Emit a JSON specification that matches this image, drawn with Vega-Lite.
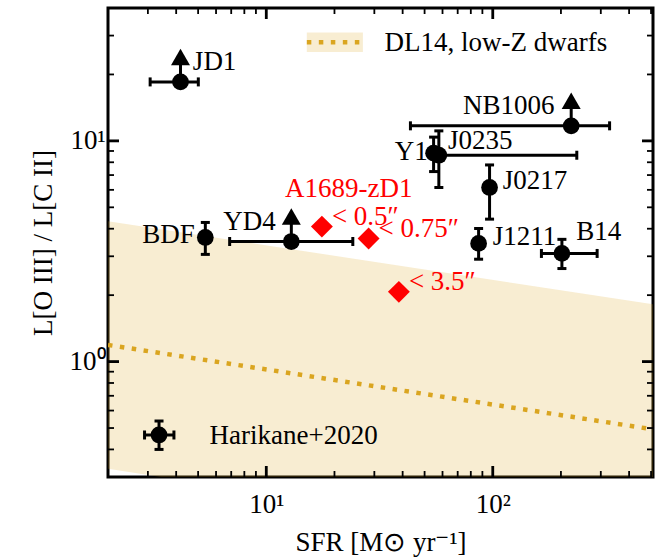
{
  "$schema": "https://vega.github.io/schema/vega-lite/v6.json",
  "width": 545,
  "height": 469,
  "autosize": {"type": "none"},
  "padding": {"left": 108, "top": 8, "right": 10, "bottom": 81},
  "config": {
    "view": {"stroke": "black", "strokeWidth": 3},
    "font": "Liberation Serif",
    "axis": {
      "domain": false,
      "grid": false,
      "zindex": 1,
      "labelFont": "Liberation Serif",
      "labelFontSize": 27,
      "labelColor": "black",
      "labelOverlap": false,
      "labelFlush": false,
      "titleFont": "Liberation Serif",
      "titleFontSize": 27,
      "titleFontWeight": "normal",
      "titleColor": "black"
    },
    "text": {"font": "Liberation Serif", "fontSize": 27, "baseline": "middle"}
  },
  "datasets": {
    "dl14": [
      {"sfr": 2, "ratio": 1.19, "ratio_lo": 0.327, "ratio_hi": 4.32},
      {"sfr": 510, "ratio": 0.493, "ratio_lo": 0.135, "ratio_hi": 1.82}
    ],
    "dl14_key": [
      {"sfr": 15.1, "ratio": 28.0, "ratio_lo": 25.3, "ratio_hi": 31.0},
      {"sfr": 26.7, "ratio": 28.0, "ratio_lo": 25.3, "ratio_hi": 31.0}
    ],
    "xticks": [
      {"sfr": 3, "major": false, "ratio_min": 0.3, "ratio_max": 40},
      {"sfr": 4, "major": false, "ratio_min": 0.3, "ratio_max": 40},
      {"sfr": 5, "major": false, "ratio_min": 0.3, "ratio_max": 40},
      {"sfr": 6, "major": false, "ratio_min": 0.3, "ratio_max": 40},
      {"sfr": 7, "major": false, "ratio_min": 0.3, "ratio_max": 40},
      {"sfr": 8, "major": false, "ratio_min": 0.3, "ratio_max": 40},
      {"sfr": 9, "major": false, "ratio_min": 0.3, "ratio_max": 40},
      {"sfr": 10, "major": true, "ratio_min": 0.3, "ratio_max": 40},
      {"sfr": 20, "major": false, "ratio_min": 0.3, "ratio_max": 40},
      {"sfr": 30, "major": false, "ratio_min": 0.3, "ratio_max": 40},
      {"sfr": 40, "major": false, "ratio_min": 0.3, "ratio_max": 40},
      {"sfr": 50, "major": false, "ratio_min": 0.3, "ratio_max": 40},
      {"sfr": 60, "major": false, "ratio_min": 0.3, "ratio_max": 40},
      {"sfr": 70, "major": false, "ratio_min": 0.3, "ratio_max": 40},
      {"sfr": 80, "major": false, "ratio_min": 0.3, "ratio_max": 40},
      {"sfr": 90, "major": false, "ratio_min": 0.3, "ratio_max": 40},
      {"sfr": 100, "major": true, "ratio_min": 0.3, "ratio_max": 40},
      {"sfr": 200, "major": false, "ratio_min": 0.3, "ratio_max": 40},
      {"sfr": 300, "major": false, "ratio_min": 0.3, "ratio_max": 40},
      {"sfr": 400, "major": false, "ratio_min": 0.3, "ratio_max": 40},
      {"sfr": 500, "major": false, "ratio_min": 0.3, "ratio_max": 40}
    ],
    "yticks": [
      {"ratio": 0.4, "major": false, "sfr_min": 2, "sfr_max": 510},
      {"ratio": 0.5, "major": false, "sfr_min": 2, "sfr_max": 510},
      {"ratio": 0.6, "major": false, "sfr_min": 2, "sfr_max": 510},
      {"ratio": 0.7, "major": false, "sfr_min": 2, "sfr_max": 510},
      {"ratio": 0.8, "major": false, "sfr_min": 2, "sfr_max": 510},
      {"ratio": 0.9, "major": false, "sfr_min": 2, "sfr_max": 510},
      {"ratio": 1, "major": true, "sfr_min": 2, "sfr_max": 510},
      {"ratio": 2, "major": false, "sfr_min": 2, "sfr_max": 510},
      {"ratio": 3, "major": false, "sfr_min": 2, "sfr_max": 510},
      {"ratio": 4, "major": false, "sfr_min": 2, "sfr_max": 510},
      {"ratio": 5, "major": false, "sfr_min": 2, "sfr_max": 510},
      {"ratio": 6, "major": false, "sfr_min": 2, "sfr_max": 510},
      {"ratio": 7, "major": false, "sfr_min": 2, "sfr_max": 510},
      {"ratio": 8, "major": false, "sfr_min": 2, "sfr_max": 510},
      {"ratio": 9, "major": false, "sfr_min": 2, "sfr_max": 510},
      {"ratio": 10, "major": true, "sfr_min": 2, "sfr_max": 510},
      {"ratio": 20, "major": false, "sfr_min": 2, "sfr_max": 510},
      {"ratio": 30, "major": false, "sfr_min": 2, "sfr_max": 510}
    ],
    "harikane": [
      {"name": "JD1", "sfr": 4.18, "ratio": 18.5, "sfr_lo": 3.07, "sfr_hi": 5.01, "ratio_lo": null, "ratio_hi": null, "limit": true},
      {"name": "BDF", "sfr": 5.38, "ratio": 3.65, "sfr_lo": null, "sfr_hi": null, "ratio_lo": 3.06, "ratio_hi": 4.27, "limit": false},
      {"name": "YD4", "sfr": 12.9, "ratio": 3.50, "sfr_lo": 6.89, "sfr_hi": 24.1, "ratio_lo": null, "ratio_hi": null, "limit": true},
      {"name": "Y1", "sfr": 54.8, "ratio": 8.80, "sfr_lo": null, "sfr_hi": null, "ratio_lo": 7.26, "ratio_hi": 10.4, "limit": false},
      {"name": "J0235", "sfr": 57.8, "ratio": 8.61, "sfr_lo": 55.0, "sfr_hi": 235, "ratio_lo": 6.15, "ratio_hi": 11.1, "limit": false},
      {"name": "J0217", "sfr": 96.8, "ratio": 6.15, "sfr_lo": null, "sfr_hi": null, "ratio_lo": 4.42, "ratio_hi": 7.78, "limit": false},
      {"name": "J1211", "sfr": 86.6, "ratio": 3.43, "sfr_lo": null, "sfr_hi": null, "ratio_lo": 2.91, "ratio_hi": 4.01, "limit": false},
      {"name": "B14", "sfr": 202, "ratio": 3.09, "sfr_lo": 164, "sfr_hi": 289, "ratio_lo": 2.64, "ratio_hi": 3.58, "limit": false},
      {"name": "NB1006", "sfr": 222, "ratio": 11.7, "sfr_lo": 43.3, "sfr_hi": 328, "ratio_lo": null, "ratio_hi": null, "limit": true},
      {"name": "key", "sfr": 3.36, "ratio": 0.465, "sfr_lo": 2.90, "sfr_hi": 3.91, "ratio_lo": 0.400, "ratio_hi": 0.538, "limit": false}
    ],
    "zd1": [
      {"aperture": "< 0.5″", "sfr": 17.6, "ratio": 4.09},
      {"aperture": "< 0.75″", "sfr": 28.3, "ratio": 3.61},
      {"aperture": "< 3.5″", "sfr": 38.5, "ratio": 2.07}
    ],
    "labels_after": [
      {"text": "JD1", "sfr": 4.74, "ratio": 22.8},
      {"text": "J0235", "sfr": 63.4, "ratio": 10.0},
      {"text": "J0217", "sfr": 110.8, "ratio": 6.59},
      {"text": "J1211", "sfr": 100.1, "ratio": 3.65},
      {"text": "B14", "sfr": 233.7, "ratio": 3.85},
      {"text": "Harikane+2020", "sfr": 5.62, "ratio": 0.459},
      {"text": "DL14, low-Z dwarfs", "sfr": 33.3, "ratio": 27.9}
    ],
    "labels_before": [
      {"text": "BDF", "sfr": 4.83, "ratio": 3.75},
      {"text": "YD4", "sfr": 11.0, "ratio": 4.29},
      {"text": "Y1", "sfr": 51.7, "ratio": 8.86},
      {"text": "NB1006", "sfr": 187.5, "ratio": 14.4}
    ],
    "labels_above": [
      {"text": "A1689-zD1", "sfr": 23.1, "ratio": 6.04}
    ]
  },
  "resolve": {"axis": {"x": "independent", "y": "independent"}},
  "layer": [
    {
      "data": {"name": "dl14"},
      "mark": {"type": "area", "clip": true, "color": "#daa520", "opacity": 0.2},
      "encoding": {
        "x": {
          "field": "sfr", "type": "quantitative",
          "scale": {"type": "log", "domain": [2, 510], "nice": false},
          "axis": {
            "orient": "bottom", "values": [10, 100],
            "labelExpr": "datum.value == 10 ? '10¹' : '10²'",
            "ticks": false,
            "labelPadding": 14,
            "title": "SFR [M⊙ yr⁻¹]", "titlePadding": 12
          }
        },
        "y": {
          "field": "ratio_lo", "type": "quantitative",
          "scale": {"type": "log", "domain": [0.3, 40], "nice": false},
          "axis": {
            "orient": "left", "values": [1, 10],
            "labelExpr": "datum.value == 1 ? '10⁰' : '10¹'",
            "ticks": false,
            "labelPadding": 3,
            "title": "L[O III] / L[C II]", "titlePadding": 12
          }
        },
        "y2": {"field": "ratio_hi"}
      }
    },
    {
      "data": {"name": "dl14"},
      "mark": {"type": "line", "clip": true, "color": "#daa520", "strokeWidth": 4.5, "strokeDash": [4.5, 7.5]},
      "encoding": {
        "x": {"field": "sfr", "type": "quantitative", "scale": {"type": "log", "domain": [2, 510], "nice": false}, "axis": null},
        "y": {"field": "ratio", "type": "quantitative", "scale": {"type": "log", "domain": [0.3, 40], "nice": false}, "axis": null}
      }
    },
    {
      "data": {"name": "dl14_key"},
      "mark": {"type": "area", "color": "#daa520", "opacity": 0.2},
      "encoding": {
        "x": {"field": "sfr", "type": "quantitative", "scale": {"type": "log", "domain": [2, 510], "nice": false}, "axis": null},
        "y": {"field": "ratio_lo", "type": "quantitative", "scale": {"type": "log", "domain": [0.3, 40], "nice": false}, "axis": null},
        "y2": {"field": "ratio_hi"}
      }
    },
    {
      "data": {"name": "dl14_key"},
      "mark": {"type": "line", "color": "#daa520", "strokeWidth": 4.5, "strokeDash": [4.5, 7.5]},
      "encoding": {
        "x": {"field": "sfr", "type": "quantitative", "scale": {"type": "log", "domain": [2, 510], "nice": false}, "axis": null},
        "y": {"field": "ratio", "type": "quantitative", "scale": {"type": "log", "domain": [0.3, 40], "nice": false}, "axis": null}
      }
    },
    {
      "data": {"name": "xticks"},
      "transform": [{"filter": "datum.major"}],
      "mark": {"type": "tick", "orient": "vertical", "color": "black", "opacity": 1, "size": 11, "thickness": 2.8, "yOffset": -5.5},
      "encoding": {
        "x": {"field": "sfr", "type": "quantitative", "scale": {"type": "log", "domain": [2, 510], "nice": false}, "axis": null},
        "y": {"field": "ratio_min", "type": "quantitative", "scale": {"type": "log", "domain": [0.3, 40], "nice": false}, "axis": null}
      }
    },
    {
      "data": {"name": "xticks"},
      "transform": [{"filter": "datum.major"}],
      "mark": {"type": "tick", "orient": "vertical", "color": "black", "opacity": 1, "size": 11, "thickness": 2.8, "yOffset": 5.5},
      "encoding": {
        "x": {"field": "sfr", "type": "quantitative", "scale": {"type": "log", "domain": [2, 510], "nice": false}, "axis": null},
        "y": {"field": "ratio_max", "type": "quantitative", "scale": {"type": "log", "domain": [0.3, 40], "nice": false}, "axis": null}
      }
    },
    {
      "data": {"name": "xticks"},
      "transform": [{"filter": "!datum.major"}],
      "mark": {"type": "tick", "orient": "vertical", "color": "black", "opacity": 1, "size": 6, "thickness": 1.8, "yOffset": -3},
      "encoding": {
        "x": {"field": "sfr", "type": "quantitative", "scale": {"type": "log", "domain": [2, 510], "nice": false}, "axis": null},
        "y": {"field": "ratio_min", "type": "quantitative", "scale": {"type": "log", "domain": [0.3, 40], "nice": false}, "axis": null}
      }
    },
    {
      "data": {"name": "xticks"},
      "transform": [{"filter": "!datum.major"}],
      "mark": {"type": "tick", "orient": "vertical", "color": "black", "opacity": 1, "size": 6, "thickness": 1.8, "yOffset": 3},
      "encoding": {
        "x": {"field": "sfr", "type": "quantitative", "scale": {"type": "log", "domain": [2, 510], "nice": false}, "axis": null},
        "y": {"field": "ratio_max", "type": "quantitative", "scale": {"type": "log", "domain": [0.3, 40], "nice": false}, "axis": null}
      }
    },
    {
      "data": {"name": "yticks"},
      "transform": [{"filter": "datum.major"}],
      "mark": {"type": "tick", "orient": "horizontal", "color": "black", "opacity": 1, "size": 11, "thickness": 2.8, "xOffset": 5.5},
      "encoding": {
        "x": {"field": "sfr_min", "type": "quantitative", "scale": {"type": "log", "domain": [2, 510], "nice": false}, "axis": null},
        "y": {"field": "ratio", "type": "quantitative", "scale": {"type": "log", "domain": [0.3, 40], "nice": false}, "axis": null}
      }
    },
    {
      "data": {"name": "yticks"},
      "transform": [{"filter": "datum.major"}],
      "mark": {"type": "tick", "orient": "horizontal", "color": "black", "opacity": 1, "size": 11, "thickness": 2.8, "xOffset": -5.5},
      "encoding": {
        "x": {"field": "sfr_max", "type": "quantitative", "scale": {"type": "log", "domain": [2, 510], "nice": false}, "axis": null},
        "y": {"field": "ratio", "type": "quantitative", "scale": {"type": "log", "domain": [0.3, 40], "nice": false}, "axis": null}
      }
    },
    {
      "data": {"name": "yticks"},
      "transform": [{"filter": "!datum.major"}],
      "mark": {"type": "tick", "orient": "horizontal", "color": "black", "opacity": 1, "size": 6, "thickness": 1.8, "xOffset": 3},
      "encoding": {
        "x": {"field": "sfr_min", "type": "quantitative", "scale": {"type": "log", "domain": [2, 510], "nice": false}, "axis": null},
        "y": {"field": "ratio", "type": "quantitative", "scale": {"type": "log", "domain": [0.3, 40], "nice": false}, "axis": null}
      }
    },
    {
      "data": {"name": "yticks"},
      "transform": [{"filter": "!datum.major"}],
      "mark": {"type": "tick", "orient": "horizontal", "color": "black", "opacity": 1, "size": 6, "thickness": 1.8, "xOffset": -3},
      "encoding": {
        "x": {"field": "sfr_max", "type": "quantitative", "scale": {"type": "log", "domain": [2, 510], "nice": false}, "axis": null},
        "y": {"field": "ratio", "type": "quantitative", "scale": {"type": "log", "domain": [0.3, 40], "nice": false}, "axis": null}
      }
    },
    {
      "data": {"name": "harikane"},
      "transform": [{"filter": "datum.sfr_lo != null"}],
      "mark": {"type": "rule", "color": "black", "strokeWidth": 3},
      "encoding": {
        "x": {"field": "sfr_lo", "type": "quantitative", "scale": {"type": "log", "domain": [2, 510], "nice": false}, "axis": null},
        "x2": {"field": "sfr_hi"},
        "y": {"field": "ratio", "type": "quantitative", "scale": {"type": "log", "domain": [0.3, 40], "nice": false}, "axis": null}
      }
    },
    {
      "data": {"name": "harikane"},
      "transform": [{"filter": "datum.ratio_lo != null"}],
      "mark": {"type": "rule", "color": "black", "strokeWidth": 3},
      "encoding": {
        "x": {"field": "sfr", "type": "quantitative", "scale": {"type": "log", "domain": [2, 510], "nice": false}, "axis": null},
        "y": {"field": "ratio_lo", "type": "quantitative", "scale": {"type": "log", "domain": [0.3, 40], "nice": false}, "axis": null},
        "y2": {"field": "ratio_hi"}
      }
    },
    {
      "data": {"name": "harikane"},
      "transform": [
        {"fold": ["sfr_lo", "sfr_hi"], "as": ["end", "cap"]},
        {"filter": "datum.cap != null"}
      ],
      "mark": {"type": "tick", "orient": "vertical", "color": "black", "size": 9, "thickness": 3, "opacity": 1},
      "encoding": {
        "x": {"field": "cap", "type": "quantitative", "scale": {"type": "log", "domain": [2, 510], "nice": false}, "axis": null},
        "y": {"field": "ratio", "type": "quantitative", "scale": {"type": "log", "domain": [0.3, 40], "nice": false}, "axis": null}
      }
    },
    {
      "data": {"name": "harikane"},
      "transform": [
        {"fold": ["ratio_lo", "ratio_hi"], "as": ["end", "cap"]},
        {"filter": "datum.cap != null"}
      ],
      "mark": {"type": "tick", "orient": "horizontal", "color": "black", "size": 9, "thickness": 3, "opacity": 1},
      "encoding": {
        "x": {"field": "sfr", "type": "quantitative", "scale": {"type": "log", "domain": [2, 510], "nice": false}, "axis": null},
        "y": {"field": "cap", "type": "quantitative", "scale": {"type": "log", "domain": [0.3, 40], "nice": false}, "axis": null}
      }
    },
    {
      "data": {"name": "harikane"},
      "transform": [{"filter": "datum.limit"}],
      "mark": {"type": "rule", "color": "black", "strokeWidth": 3, "y2Offset": -18},
      "encoding": {
        "x": {"field": "sfr", "type": "quantitative", "scale": {"type": "log", "domain": [2, 510], "nice": false}, "axis": null},
        "y": {"field": "ratio", "type": "quantitative", "scale": {"type": "log", "domain": [0.3, 40], "nice": false}, "axis": null},
        "y2": {"field": "ratio"}
      }
    },
    {
      "data": {"name": "harikane"},
      "transform": [{"filter": "datum.limit"}],
      "mark": {"type": "point", "shape": "triangle-up", "filled": true, "color": "black", "opacity": 1, "size": 361, "yOffset": -25},
      "encoding": {
        "x": {"field": "sfr", "type": "quantitative", "scale": {"type": "log", "domain": [2, 510], "nice": false}, "axis": null},
        "y": {"field": "ratio", "type": "quantitative", "scale": {"type": "log", "domain": [0.3, 40], "nice": false}, "axis": null}
      }
    },
    {
      "data": {"name": "harikane"},
      "mark": {"type": "point", "shape": "circle", "filled": true, "color": "black", "opacity": 1, "size": 280},
      "encoding": {
        "x": {"field": "sfr", "type": "quantitative", "scale": {"type": "log", "domain": [2, 510], "nice": false}, "axis": null},
        "y": {"field": "ratio", "type": "quantitative", "scale": {"type": "log", "domain": [0.3, 40], "nice": false}, "axis": null}
      }
    },
    {
      "data": {"name": "zd1"},
      "mark": {"type": "point", "shape": "diamond", "filled": true, "color": "#ff0000", "opacity": 1, "size": 480},
      "encoding": {
        "x": {"field": "sfr", "type": "quantitative", "scale": {"type": "log", "domain": [2, 510], "nice": false}, "axis": null},
        "y": {"field": "ratio", "type": "quantitative", "scale": {"type": "log", "domain": [0.3, 40], "nice": false}, "axis": null}
      }
    },
    {
      "data": {"name": "zd1"},
      "mark": {"type": "text", "align": "left", "dx": 10, "dy": -10, "color": "#ff0000"},
      "encoding": {
        "x": {"field": "sfr", "type": "quantitative", "scale": {"type": "log", "domain": [2, 510], "nice": false}, "axis": null},
        "y": {"field": "ratio", "type": "quantitative", "scale": {"type": "log", "domain": [0.3, 40], "nice": false}, "axis": null},
        "text": {"field": "aperture"}
      }
    },
    {
      "data": {"name": "labels_after"},
      "mark": {"type": "text", "align": "left", "color": "black"},
      "encoding": {
        "x": {"field": "sfr", "type": "quantitative", "scale": {"type": "log", "domain": [2, 510], "nice": false}, "axis": null},
        "y": {"field": "ratio", "type": "quantitative", "scale": {"type": "log", "domain": [0.3, 40], "nice": false}, "axis": null},
        "text": {"field": "text"}
      }
    },
    {
      "data": {"name": "labels_before"},
      "mark": {"type": "text", "align": "right", "color": "black"},
      "encoding": {
        "x": {"field": "sfr", "type": "quantitative", "scale": {"type": "log", "domain": [2, 510], "nice": false}, "axis": null},
        "y": {"field": "ratio", "type": "quantitative", "scale": {"type": "log", "domain": [0.3, 40], "nice": false}, "axis": null},
        "text": {"field": "text"}
      }
    },
    {
      "data": {"name": "labels_above"},
      "mark": {"type": "text", "align": "center", "color": "#ff0000"},
      "encoding": {
        "x": {"field": "sfr", "type": "quantitative", "scale": {"type": "log", "domain": [2, 510], "nice": false}, "axis": null},
        "y": {"field": "ratio", "type": "quantitative", "scale": {"type": "log", "domain": [0.3, 40], "nice": false}, "axis": null},
        "text": {"field": "text"}
      }
    }
  ]
}
